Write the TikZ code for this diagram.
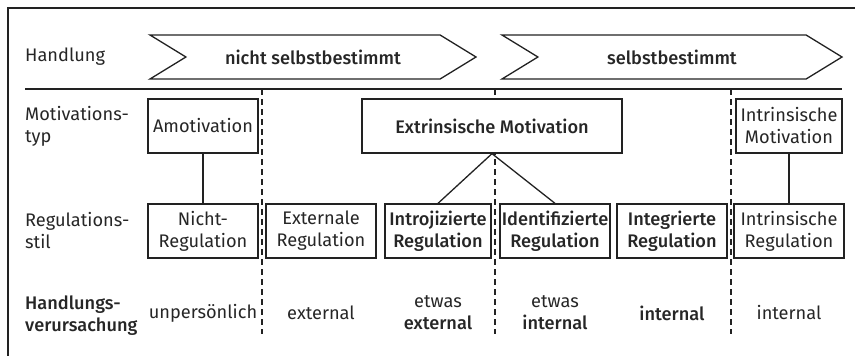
\documentclass[tikz,border=0pt]{standalone}
\usepackage{fontspec}
\setmainfont{Fira Sans}[BoldFont={Fira Sans Medium}]
\usetikzlibrary{shapes.symbols}
\definecolor{txtGray}{HTML}{262626}
\definecolor{lineGray}{HTML}{222222}
\tikzset{font=\fontsize{18.2}{22}\selectfont}
\tikzstyle{regbox} = [rectangle, minimum height=54pt, align=center,%
inner sep=1pt, draw=lineGray, fill=white, line width=1.3pt, text=txtGray]
\tikzstyle{rowlabel} = [anchor=west, align=left, inner sep=0pt, text=txtGray]
\tikzstyle{phase} = [signal, signal from=west, signal to=east,%
signal pointer angle=63, minimum height=44pt, inner sep=0pt,%
draw=lineGray, line width=1.3pt, text=txtGray, font=\fontsize{18.2}{22}\selectfont\bfseries]
\tikzstyle{cause} = [align=center, text=txtGray]
\tikzstyle{line} = [line width=1.3pt, draw=lineGray]
\tikzstyle{divider} = [line width=1.3pt, draw=lineGray, dash pattern=on 6pt off 4pt]

\begin{document}
\begin{tikzpicture}[x=1pt, y=-1pt]
    \useasboundingbox (0,0) rectangle (855,356);
    \draw [line] (855,8) -- (8,8) -- (8,356);

    % row labels
    \node (lHandlung) [rowlabel] at (25,57) {Handlung};
    \node (lMotTyp) [rowlabel] at (25,126) {Motivations-\\typ};
    \node (lRegStil) [rowlabel] at (25,231) {Regulations-\\stil};
    \node (lUrsache) [rowlabel, font=\fontsize{18.2}{22}\selectfont\bfseries] at (25,316)%
      {Handlungs-\\verursachung};

    % Handlung
    \node (nichtSelbst) [phase, minimum width=326pt] at (313,57) {nicht selbstbestimmt};
    \node (selbst) [phase, minimum width=340pt] at (672,57) {selbstbestimmt};
    \draw [line] (25,89) -- (842,89);

    % dividers
    \draw [divider] (262,89) -- (262,334);
    \draw [divider] (495,89) -- (495,334);
    \draw [divider] (731,89) -- (731,334);

    % Motivationstyp
    \node (amot) [regbox, minimum width=110pt] at (203,126) {Amotivation};
    \node (extr) [regbox, minimum width=260pt, font=\fontsize{18.2}{22}\selectfont\bfseries]%
      at (492,126) {Extrinsische Motivation};
    \node (intrMot) [regbox, minimum width=106pt] at (789,126) {Intrinsische\\Motivation};

    % Regulationsstil
    \node (nichtReg) [regbox, minimum width=110pt] at (203,231) {Nicht-\\Regulation};
    \node (extReg) [regbox, minimum width=110pt] at (321,231) {Externale\\Regulation};
    \node (introReg) [regbox, minimum width=106pt, font=\fontsize{18.2}{22}\selectfont\bfseries]%
      at (438,231) {Introjizierte\\Regulation};
    \node (identReg) [regbox, minimum width=110pt, font=\fontsize{18.2}{22}\selectfont\bfseries]%
      at (555,231) {Identifizierte\\Regulation};
    \node (integReg) [regbox, minimum width=110pt, font=\fontsize{18.2}{22}\selectfont\bfseries]%
      at (672,231) {Integrierte\\Regulation};
    \node (intrReg) [regbox, minimum width=110pt] at (789,231) {Intrinsische\\Regulation};

    % Handlungsverursachung
    \node (cUnpers) [cause] at (203,313) {unpersönlich};
    \node (cExt) [cause] at (321,313) {external};
    \node (cIntro) [cause] at (438,313) {etwas\\\textbf{external}};
    \node (cIdent) [cause] at (555,313) {etwas\\\textbf{internal}};
    \node (cInteg) [cause, font=\fontsize{18.2}{22}\selectfont\bfseries] at (672,313) {internal};
    \node (cIntr) [cause] at (789,313) {internal};

    \draw [line] (amot) -- (nichtReg);
    \draw [line] (extr.south) -- (introReg.north);
    \draw [line] (extr.south) -- (identReg.north);
    \draw [line] (intrMot) -- (intrReg);
\end{tikzpicture}
\end{document}
